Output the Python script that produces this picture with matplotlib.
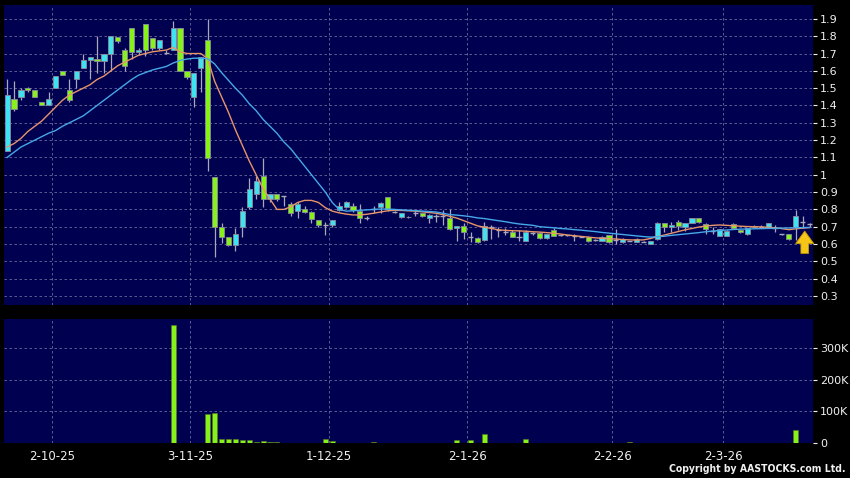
import matplotlib
matplotlib.use("Agg")
import matplotlib.pyplot as plt
import numpy as np

# daily candles, one entry per trading day
opens = [1.14, 1.44, 1.45, 1.50, 1.49, 1.42, 1.40, 1.50, 1.60, 1.49,
         1.55, 1.615, 1.66, 1.67, 1.655, 1.70, 1.795, 1.72, 1.85, 1.71,
         1.87, 1.79, 1.73, 1.705, 1.72, 1.85, 1.60, 1.45, 1.615, 1.78,
         0.985, 0.70, 0.64, 0.595, 0.697, 0.816, 0.889, 0.995, 0.858, 0.889,
         0.875, 0.83, 0.79, 0.805, 0.787, 0.74, 0.71, 0.71, 0.797, 0.816,
         0.82, 0.79, 0.75, 0.80, 0.812, 0.87, 0.787, 0.755, 0.758, 0.78,
         0.78, 0.748, 0.763, 0.763, 0.75, 0.695, 0.705, 0.642, 0.637, 0.623,
         0.70, 0.68, 0.67, 0.667, 0.642, 0.617, 0.662, 0.665, 0.637, 0.68,
         0.65, 0.65, 0.645, 0.642, 0.642, 0.623, 0.617, 0.65, 0.623, 0.61,
         0.617, 0.612, 0.612, 0.602, 0.63, 0.72, 0.70, 0.73, 0.70, 0.72,
         0.749, 0.714, 0.678, 0.648, 0.648, 0.714, 0.68, 0.658, 0.705, 0.70,
         0.695, 0.69, 0.658, 0.656, 0.697, 0.73, 0.715]
highs = [1.55, 1.54, 1.50, 1.505, 1.49, 1.42, 1.48, 1.57, 1.60, 1.55,
         1.60, 1.70, 1.68, 1.80, 1.70, 1.80, 1.795, 1.73, 1.85, 1.73,
         1.87, 1.79, 1.78, 1.72, 1.89, 1.85, 1.60, 1.59, 1.68, 1.90,
         0.985, 0.72, 0.64, 0.69, 0.815, 0.98, 0.99, 1.095, 0.889, 0.889,
         0.88, 0.845, 0.845, 0.82, 0.79, 0.74, 0.73, 0.74, 0.845, 0.85,
         0.835, 0.83, 0.76, 0.82, 0.84, 0.87, 0.79, 0.78, 0.76, 0.79,
         0.78, 0.775, 0.775, 0.795, 0.80, 0.705, 0.72, 0.67, 0.64, 0.73,
         0.71, 0.70, 0.69, 0.68, 0.68, 0.68, 0.67, 0.67, 0.66, 0.69,
         0.655, 0.655, 0.66, 0.645, 0.645, 0.63, 0.645, 0.655, 0.685, 0.635,
         0.62, 0.635, 0.615, 0.62, 0.725, 0.72, 0.73, 0.74, 0.72, 0.75,
         0.75, 0.72, 0.70, 0.685, 0.68, 0.72, 0.685, 0.69, 0.71, 0.71,
         0.72, 0.71, 0.66, 0.66, 0.797, 0.764, 0.72]
lows = [1.14, 1.37, 1.43, 1.48, 1.45, 1.40, 1.40, 1.50, 1.575, 1.42,
        1.50, 1.615, 1.55, 1.59, 1.59, 1.60, 1.76, 1.60, 1.67, 1.69,
        1.685, 1.72, 1.72, 1.70, 1.72, 1.60, 1.555, 1.39, 1.475, 1.02,
        0.527, 0.605, 0.59, 0.56, 0.64, 0.80, 0.86, 0.815, 0.845, 0.85,
        0.82, 0.76, 0.75, 0.78, 0.72, 0.70, 0.65, 0.70, 0.79, 0.81,
        0.785, 0.72, 0.74, 0.78, 0.78, 0.79, 0.78, 0.75, 0.75, 0.76,
        0.755, 0.72, 0.73, 0.71, 0.68, 0.615, 0.63, 0.613, 0.605, 0.62,
        0.63, 0.64, 0.65, 0.64, 0.615, 0.615, 0.65, 0.63, 0.63, 0.645,
        0.645, 0.645, 0.62, 0.64, 0.61, 0.615, 0.615, 0.605, 0.60, 0.605,
        0.615, 0.61, 0.61, 0.60, 0.625, 0.67, 0.67, 0.68, 0.675, 0.72,
        0.72, 0.66, 0.66, 0.645, 0.645, 0.69, 0.665, 0.655, 0.69, 0.69,
        0.69, 0.672, 0.655, 0.625, 0.623, 0.69, 0.70]
closes = [1.46, 1.38, 1.49, 1.49, 1.45, 1.40, 1.44, 1.57, 1.575, 1.43,
          1.60, 1.66, 1.68, 1.655, 1.70, 1.80, 1.775, 1.63, 1.71, 1.72,
          1.72, 1.73, 1.78, 1.705, 1.846, 1.60, 1.567, 1.59, 1.68, 1.095,
          0.697, 0.642, 0.595, 0.658, 0.793, 0.916, 0.966, 0.858, 0.889, 0.858,
          0.875, 0.78, 0.83, 0.787, 0.742, 0.71, 0.71, 0.74, 0.82, 0.84,
          0.797, 0.75, 0.75, 0.80, 0.835, 0.80, 0.787, 0.777, 0.755, 0.78,
          0.76, 0.767, 0.763, 0.763, 0.687, 0.705, 0.667, 0.642, 0.61, 0.706,
          0.70, 0.68, 0.67, 0.642, 0.642, 0.667, 0.662, 0.637, 0.656, 0.648,
          0.65, 0.65, 0.645, 0.642, 0.617, 0.623, 0.642, 0.61, 0.623, 0.63,
          0.617, 0.631, 0.612, 0.617, 0.723, 0.70, 0.71, 0.706, 0.72, 0.749,
          0.725, 0.687, 0.678, 0.685, 0.677, 0.691, 0.671, 0.69, 0.697, 0.70,
          0.72, 0.69, 0.658, 0.627, 0.764, 0.73, 0.715]
volumes = [0, 0, 0, 0, 0, 0, 0, 0, 0, 0,
           1000, 0, 0, 0, 0, 0, 0, 0, 0, 0,
           0, 0, 0, 0, 374000, 0, 0, 0, 0, 92000,
           94000, 14000, 12000, 13000, 11000, 11000, 4000, 6000, 3000, 3000,
           0, 1000, 0, 1000, 0, 0, 14000, 6000, 0, 0,
           0, 0, 0, 3000, 0, 1000, 1000, 0, 0, 0,
           0, 0, 1000, 0, 0, 10000, 0, 8000, 0, 28000,
           0, 0, 0, 0, 0, 12000, 0, 0, 0, 0,
           0, 0, 0, 0, 0, 0, 0, 0, 0, 0,
           3000, 0, 0, 0, 0, 0, 0, 0, 0, 0,
           0, 0, 0, 0, 0, 0, 0, 0, 0, 0,
           0, 0, 0, 0, 42000, 0, 0]

# moving averages as drawn on the chart
ma_short = [1.16, 1.18, 1.21, 1.25, 1.28, 1.31, 1.35, 1.39, 1.43, 1.46,
            1.48, 1.50, 1.52, 1.55, 1.57, 1.60, 1.63, 1.65, 1.67, 1.69,
            1.70, 1.71, 1.715, 1.72, 1.735, 1.71, 1.70, 1.70, 1.70, 1.67,
            1.54, 1.45, 1.36, 1.26, 1.17, 1.08, 1.00, 0.92, 0.86, 0.80,
            0.80, 0.815, 0.84, 0.852, 0.852, 0.84, 0.81, 0.79, 0.78, 0.773,
            0.768, 0.768, 0.772, 0.778, 0.785, 0.792, 0.795, 0.794, 0.792, 0.79,
            0.786, 0.782, 0.778, 0.77, 0.76, 0.75, 0.735, 0.72, 0.705, 0.697,
            0.69, 0.682, 0.679, 0.677, 0.676, 0.674, 0.671, 0.669, 0.666, 0.662,
            0.658, 0.652, 0.648, 0.644, 0.64, 0.636, 0.633, 0.631, 0.629, 0.626,
            0.624, 0.623, 0.624, 0.632, 0.643, 0.652, 0.662, 0.672, 0.682, 0.69,
            0.698, 0.704, 0.708, 0.71, 0.708, 0.705, 0.703, 0.701, 0.70, 0.699,
            0.697, 0.694, 0.689, 0.683, 0.688, 0.692, 0.695]
ma_long = [1.10, 1.13, 1.16, 1.18, 1.20, 1.22, 1.24, 1.255, 1.28, 1.30,
           1.32, 1.34, 1.37, 1.40, 1.43, 1.46, 1.49, 1.52, 1.55, 1.575,
           1.59, 1.605, 1.615, 1.625, 1.645, 1.66, 1.668, 1.673, 1.673, 1.67,
           1.64, 1.59, 1.545, 1.50, 1.46, 1.41, 1.37, 1.32, 1.28, 1.24,
           1.19, 1.15, 1.10, 1.05, 1.00, 0.95, 0.90, 0.84, 0.80, 0.79,
           0.792, 0.795, 0.797, 0.80, 0.802, 0.802, 0.80, 0.797, 0.795, 0.793,
           0.79, 0.788, 0.785, 0.778, 0.77, 0.767, 0.763, 0.758, 0.751, 0.747,
           0.741, 0.735, 0.729, 0.722, 0.716, 0.712, 0.708, 0.70, 0.697, 0.694,
           0.69, 0.687, 0.683, 0.68, 0.676, 0.672, 0.667, 0.663, 0.659, 0.655,
           0.651, 0.647, 0.643, 0.64, 0.642, 0.645, 0.65, 0.654, 0.658, 0.662,
           0.666, 0.671, 0.675, 0.678, 0.681, 0.684, 0.686, 0.687, 0.688, 0.689,
           0.69, 0.691, 0.692, 0.693, 0.694, 0.695, 0.696]

month_labels = ["2-10-25", "3-11-25", "1-12-25", "2-1-26", "2-2-26", "2-3-26"]
month_pos = [6.5, 26.5, 46.5, 66.5, 87.5, 103.5]
price_ticks = [0.3, 0.4, 0.5, 0.6, 0.7, 0.8, 0.9, 1.0, 1.1, 1.2,
               1.3, 1.4, 1.5, 1.6, 1.7, 1.8, 1.9]
price_labels = ["0.3", "0.4", "0.5", "0.6", "0.7", "0.8", "0.9", "1", "1.1", "1.2",
                "1.3", "1.4", "1.5", "1.6", "1.7", "1.8", "1.9"]
vol_ticks = [0, 100000, 200000, 300000]
vol_labels = ["0", "100K", "200K", "300K"]

navy = "#000050"
grid_col = "#6a6a9c"
cyan = "#3fe3f0"
lime = "#86f21a"
wick = "#a8a8b8"
txt = "#f0f0f0"

fig = plt.figure(figsize=(8.5, 4.78), dpi=100, facecolor="black")
ax = fig.add_axes([0.0047, 0.3619, 0.9518, 0.6276], facecolor=navy)
axv = fig.add_axes([0.0047, 0.0732, 0.9518, 0.2594], facecolor=navy)

x = np.arange(len(closes))
o = np.array(opens)
c = np.array(closes)
up = c > o
dn = c < o
flat = c == o
bw = 0.74

ax.vlines(x, lows, highs, color=wick, lw=0.9, zorder=3)
ax.bar(x[up], (c - o)[up], bottom=o[up], width=bw, color=cyan,
       edgecolor="#8a8a9a", lw=0.6, zorder=4)
ax.bar(x[dn], (o - c)[dn], bottom=c[dn], width=bw, color=lime,
       edgecolor="#8a8a9a", lw=0.6, zorder=4)
ax.hlines(c[flat], x[flat] - bw / 2, x[flat] + bw / 2, color=wick, lw=1.0, zorder=4)

ax.plot(x, ma_short, color="#e8956a", lw=1.0, zorder=5)
ax.plot(x, ma_long, color="#45a8e8", lw=1.0, zorder=5)

# yellow arrow under the latest bar
last = len(closes) - 1
ax.annotate("", xy=(last - 0.7, ma_long[last] - 0.005), xytext=(last - 0.7, 0.53),
            arrowprops=dict(arrowstyle="simple,head_width=1.3,head_length=0.9,tail_width=0.55",
                            fc="#f5c518", ec="#c89a00", lw=0.6), zorder=6)

ax.set_xlim(-0.45, 116.5)
ax.set_ylim(0.248, 1.98)
ax.set_yticks(price_ticks)
ax.set_yticklabels(price_labels)
ax.set_xticks(month_pos)
ax.set_xticklabels([])
ax.tick_params(axis="x", length=0)
ax.yaxis.tick_right()
ax.tick_params(axis="y", colors=txt, labelsize=8, length=3, width=0.8, pad=2)
ax.grid(True, color=grid_col, ls=(0, (3, 3)), lw=0.6, zorder=1)
for s in ax.spines.values():
    s.set_visible(False)

axv.bar(x, volumes, width=bw, color=lime, edgecolor="#5a7a20", lw=0.4, zorder=3)
axv.set_xlim(-0.45, 116.5)
axv.set_ylim(0, 392000)
axv.set_yticks(vol_ticks)
axv.set_yticklabels(vol_labels)
axv.set_xticks(month_pos)
axv.set_xticklabels(month_labels)
axv.yaxis.tick_right()
axv.tick_params(axis="y", colors=txt, labelsize=8, length=3, width=0.8, pad=2)
axv.tick_params(axis="x", colors=txt, labelsize=8.5, length=0, pad=5)
axv.grid(True, color=grid_col, ls=(0, (3, 3)), lw=0.6, zorder=1)
for s in axv.spines.values():
    s.set_visible(False)

fig.text(0.995, 0.008, "Copyright by AASTOCKS.com Ltd.", color=txt, fontsize=7.5,
         ha="right", va="bottom", family="DejaVu Sans", fontstretch="condensed",
         fontweight="bold")

fig.savefig("out.png", dpi=100, facecolor="black")
